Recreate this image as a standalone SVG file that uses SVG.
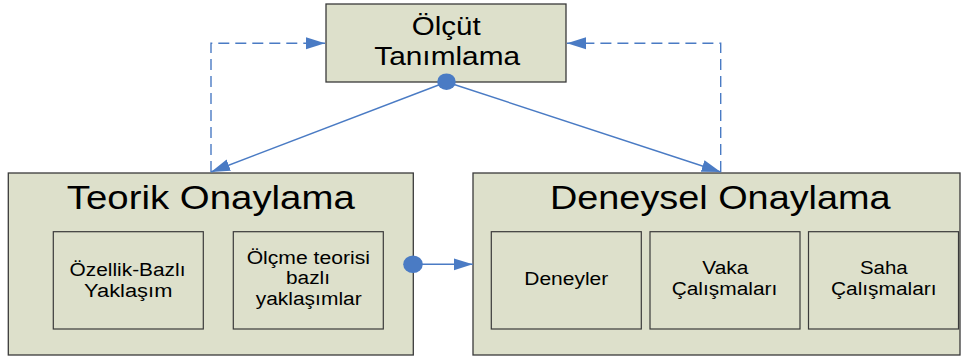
<svg xmlns="http://www.w3.org/2000/svg" width="961" height="360" viewBox="0 0 961 360">
  <defs>
    <style>
      .box { fill: #dde0cb; stroke: #3a3a3a; stroke-width: 1.3; }
      .inner { fill: #dde0cb; stroke: #3a3a3a; stroke-width: 1.2; }
      .t { font-family: "Liberation Sans", Arial, sans-serif; fill: #000; text-anchor: middle; }
      .title { font-size: 32.5px; }
      .mid { font-size: 25.5px; }
      .small { font-size: 18px; }
      .link { fill: none; stroke: #4a7bc4; stroke-width: 1.4; }
      .dash { stroke-dasharray: 11 6; }
      .dot { fill: #4a7bc4; }
    </style>
    <marker id="arrow" markerUnits="userSpaceOnUse" markerWidth="20" markerHeight="14" refX="19" refY="7" orient="auto">
      <path d="M0,1 L19,7 L0,13 z" fill="#4a7bc4"/>
    </marker>
  </defs>

  <!-- criterion definition -->
  <g id="olcut-tanimlama">
    <rect class="box" x="326" y="4" width="240" height="78"/>
    <text class="t mid" x="446.2" y="35" textLength="69" lengthAdjust="spacingAndGlyphs">Ölçüt</text>
    <text class="t mid" x="447.2" y="65" textLength="145.7" lengthAdjust="spacingAndGlyphs">Tanımlama</text>
  </g>

  <!-- theoretical validation -->
  <g id="teorik-onaylama">
    <rect class="box" x="8.3" y="173" width="405" height="182"/>
    <text class="t title" x="210.8" y="209.3" textLength="288" lengthAdjust="spacingAndGlyphs">Teorik Onaylama</text>
    <g id="ozellik-bazli">
      <rect class="inner" x="53.3" y="231.7" width="150" height="97.3"/>
      <text class="t small" x="127.5" y="276" textLength="116" lengthAdjust="spacingAndGlyphs">Özellik-Bazlı</text>
      <text class="t small" x="128.2" y="296.7" textLength="88.3" lengthAdjust="spacingAndGlyphs">Yaklaşım</text>
    </g>
    <g id="olcme-teorisi">
      <rect class="inner" x="233.3" y="231.7" width="150" height="97.3"/>
      <text class="t small" x="308.3" y="264" textLength="123.3" lengthAdjust="spacingAndGlyphs">Ölçme teorisi</text>
      <text class="t small" x="308" y="284.3" textLength="44" lengthAdjust="spacingAndGlyphs">bazlı</text>
      <text class="t small" x="308.7" y="305" textLength="106" lengthAdjust="spacingAndGlyphs">yaklaşımlar</text>
    </g>
  </g>

  <!-- experimental validation -->
  <g id="deneysel-onaylama">
    <rect class="box" x="473" y="173" width="487" height="182"/>
    <text class="t title" x="720.3" y="209.3" textLength="340.7" lengthAdjust="spacingAndGlyphs">Deneysel Onaylama</text>
    <g id="deneyler">
      <rect class="inner" x="491.3" y="231.7" width="150" height="97.3"/>
      <text class="t small" x="566.3" y="285" textLength="84" lengthAdjust="spacingAndGlyphs">Deneyler</text>
    </g>
    <g id="vaka-calismalari">
      <rect class="inner" x="650" y="231.7" width="150" height="97.3"/>
      <text class="t small" x="725.3" y="274.3" textLength="46" lengthAdjust="spacingAndGlyphs">Vaka</text>
      <text class="t small" x="724.5" y="295" textLength="105.7" lengthAdjust="spacingAndGlyphs">Çalışmaları</text>
    </g>
    <g id="saha-calismalari">
      <rect class="inner" x="808.5" y="231.7" width="150" height="97.3"/>
      <text class="t small" x="883.8" y="274.3" textLength="47.7" lengthAdjust="spacingAndGlyphs">Saha</text>
      <text class="t small" x="883.8" y="295" textLength="105.7" lengthAdjust="spacingAndGlyphs">Çalışmaları</text>
    </g>
  </g>

  <!-- connectors, drawn over the boxes so the start dots sit on the borders -->
  <g id="connectors">
    <path class="link dash" d="M211,172 V43.3 H325" marker-end="url(#arrow)"/>
    <path class="link dash" d="M720.7,172 V43.3 H567" marker-end="url(#arrow)"/>
    <path class="link" d="M446.5,82 L211,172" marker-end="url(#arrow)"/>
    <path class="link" d="M446.5,82 L720.7,172" marker-end="url(#arrow)"/>
    <path class="link" d="M413,264.3 H472.7" marker-end="url(#arrow)"/>
    <ellipse class="dot" cx="446.5" cy="81.7" rx="9.3" ry="8.3"/>
    <ellipse class="dot" cx="413" cy="264.3" rx="9.8" ry="8.8"/>
  </g>
</svg>
